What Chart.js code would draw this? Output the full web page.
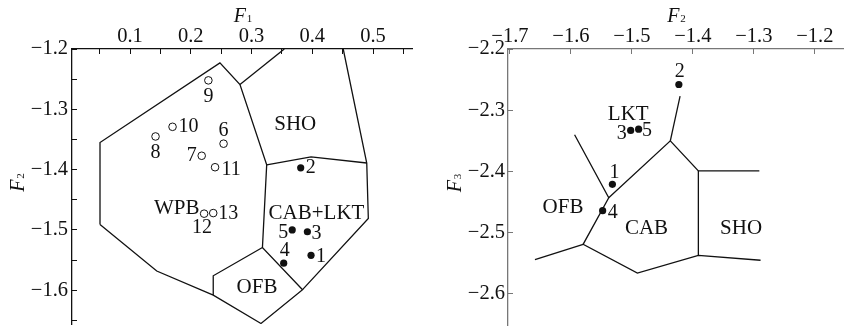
<!DOCTYPE html>
<html>
<head>
<meta charset="utf-8">
<script src="https://cdn.jsdelivr.net/npm/chart.js@4.4.0/dist/chart.umd.min.js"></script>
<style>
  body { margin: 0; background: #fff; }
  #wrap { position: relative; width: 847px; height: 329px; }
  canvas { position: absolute; top: 0; }
</style>
</head>
<body>
<div id="wrap">
  <canvas id="left" width="423" height="329" style="left:0"></canvas>
  <canvas id="right" width="424" height="329" style="left:423px"></canvas>
</div>
<script>
// ---- left diagram: F1 vs F2 ----
const leftFilledNames = ['1', '2', '3', '4', '5'];
const leftFilledF1 = [0.398, 0.381, 0.392, 0.353, 0.367];
const leftFilledF2 = [-1.542, -1.397, -1.503, -1.555, -1.500];

const leftOpenNames = ['6', '7', '8', '9', '10', '11', '12', '13'];
const leftOpenF1 = [0.254, 0.218, 0.142, 0.229, 0.170, 0.240, 0.222, 0.237];
const leftOpenF2 = [-1.357, -1.377, -1.345, -1.252, -1.329, -1.396, -1.473, -1.472];

// field boundaries, [F1, F2]
const leftBoundaries = [
    [[0.0506, -1.491], [0.0506, -1.355], [0.248, -1.223], [0.281, -1.259], [0.325, -1.392], [0.318, -1.529]],
    [[0.281, -1.259], [0.354, -1.200]],
    [[0.325, -1.392], [0.398, -1.379], [0.4897, -1.389]],
    [[0.451, -1.200], [0.4897, -1.389], [0.4923, -1.481], [0.384, -1.599]],
    [[0.0506, -1.491], [0.144, -1.568], [0.237, -1.608], [0.3156, -1.655], [0.384, -1.599], [0.318, -1.529], [0.237, -1.576], [0.237, -1.608]],
];
const leftFields = ['SHO', 'WPB', 'CAB+LKT', 'OFB'];
const leftFieldF1 = [0.372, 0.177, 0.407, 0.309];
const leftFieldF2 = [-1.325, -1.465, -1.473, -1.595];

const leftXTicks = [0.05, 0.1, 0.15, 0.2, 0.25, 0.3, 0.35, 0.4, 0.45, 0.5, 0.55];
const leftYTicks = [-1.65, -1.6, -1.55, -1.5, -1.45, -1.4, -1.35, -1.3, -1.25, -1.2];

// ---- right diagram: F2 vs F3 ----
const rightNames = ['1', '2', '3', '4', '5'];
const rightF2 = [-1.532, -1.423, -1.502, -1.548, -1.489];
const rightF3 = [-2.421, -2.258, -2.333, -2.464, -2.331];

const rightBoundaries = [
    [[-1.594, -2.340], [-1.538, -2.443], [-1.580, -2.519], [-1.491, -2.566], [-1.391, -2.537], [-1.289, -2.545]],
    [[-1.538, -2.443], [-1.437, -2.350], [-1.391, -2.399], [-1.291, -2.399]],
    [[-1.421, -2.277], [-1.437, -2.350]],
    [[-1.391, -2.399], [-1.391, -2.537]],
    [[-1.659, -2.544], [-1.580, -2.519]],
];
const rightFields = ['LKT', 'OFB', 'CAB', 'SHO'];
const rightFieldF2 = [-1.506, -1.613, -1.476, -1.321];
const rightFieldF3 = [-2.307, -2.459, -2.493, -2.493];

const rightXTicks = [-1.7, -1.6, -1.5, -1.4, -1.3, -1.2];
const rightYTicks = [-2.6, -2.5, -2.4, -2.3, -2.2];

// label placement (pixels from the point)
const leftFilledOffsets = [[10, 1], [10, 0], [9, 2], [1, -12], [-9, 3]];
const leftOpenOffsets = [[0, -13], [-10, 0], [0, 16], [0, 16], [16, 0], [16, 3], [-2, 14], [15, 1]];
const rightOffsets = [[2, -12], [1, -13], [-9, 3], [10, 2], [8.5, 2]];

const SERIF = '"Liberation Serif", "Times New Roman", serif';

function fmt(v) {
    const s = Math.abs(v).toFixed(1);
    return v < 0 ? '\u2212' + s : s;
}

function toPoints(xs, ys) {
    return xs.map((x, i) => ({ x: x, y: ys[i] }));
}

function lineSets(paths, color) {
    return paths.map(p => ({
        type: 'line',
        data: p.map(q => ({ x: q[0], y: q[1] })),
        borderColor: color,
        borderWidth: 1.3,
        pointRadius: 0,
        fill: false,
        tension: 0,
    }));
}

function drawTitle(ctx, x, y, main, sub, rotate) {
    ctx.save();
    ctx.translate(x, y);
    if (rotate) ctx.rotate(-Math.PI / 2);
    ctx.font = 'italic 20px ' + SERIF;
    const w1 = ctx.measureText(main).width;
    ctx.font = '11px ' + SERIF;
    const w2 = ctx.measureText(sub).width;
    const start = -(w1 + w2 + 1) / 2;
    ctx.textAlign = 'left';
    ctx.textBaseline = 'alphabetic';
    ctx.font = 'italic 20px ' + SERIF;
    ctx.fillText(main, start, 6);
    ctx.font = '11px ' + SERIF;
    ctx.fillText(sub, start + w1 + 1, 6);
    ctx.restore();
}

const textPlugin = {
    id: 'textPlugin',
    afterDatasetsDraw(chart, args, opts) {
        const ctx = chart.ctx;
        const xs = chart.scales.x, ys = chart.scales.y;
        ctx.save();
        ctx.fillStyle = '#111';
        ctx.textAlign = 'center';
        ctx.textBaseline = 'middle';
        ctx.font = '20px ' + SERIF;
        opts.pointLabels.forEach(set => {
            const meta = chart.getDatasetMeta(set.dataset);
            meta.data.forEach((pt, i) => {
                ctx.fillText(set.names[i], pt.x + set.offsets[i][0], pt.y + set.offsets[i][1]);
            });
        });
        ctx.font = '21px ' + SERIF;
        opts.fields.names.forEach((n, i) => {
            ctx.fillText(n, xs.getPixelForValue(opts.fields.x[i]), ys.getPixelForValue(opts.fields.y[i]));
        });
        const area = chart.chartArea;
        drawTitle(ctx, (area.left + area.right) / 2 + 1, 16, 'F', opts.xTitle, false);
        drawTitle(ctx, opts.yTitleX, (area.top + area.bottom) / 2 - 4, 'F', opts.yTitle, true);
        ctx.restore();
    }
};

function noPad(s) {
    s.paddingTop = 0;
    s.paddingBottom = 0;
    s.paddingLeft = 0;
    s.paddingRight = 0;
}

function axes(cfg) {
    const tickFont = { family: SERIF, size: 20.5 };
    return {
        x: {
            type: 'linear',
            position: 'top',
            min: cfg.xMin,
            max: cfg.xMax,
            afterBuildTicks: s => { s.ticks = cfg.xTicks.map(v => ({ value: v })); },
            afterFit: s => { s.height = 49; noPad(s); },
            ticks: {
                autoSkip: false,
                maxRotation: 0,
                padding: 5,
                color: '#111',
                font: tickFont,
                callback: v => cfg.xLabel(v),
            },
            grid: { drawOnChartArea: false, drawTicks: true, tickLength: -5, color: cfg.axisColor, lineWidth: 1 },
            border: { display: true, color: cfg.axisColor, width: 1.3 },
        },
        y: {
            type: 'linear',
            position: 'left',
            min: cfg.yMin,
            max: cfg.yMax,
            afterBuildTicks: s => { s.ticks = cfg.yTicks.map(v => ({ value: v })); },
            afterFit: s => { s.width = cfg.yWidth; noPad(s); },
            ticks: {
                autoSkip: false,
                padding: cfg.yPad,
                color: '#111',
                font: tickFont,
                callback: v => cfg.yLabel(v),
            },
            grid: { drawOnChartArea: false, drawTicks: true, tickLength: -5, color: cfg.axisColor, lineWidth: 1 },
            border: { display: true, color: cfg.axisColor, width: 1.3 },
        },
    };
}

function isMajor(v) {
    return Math.abs(v * 10 - Math.round(v * 10)) < 1e-6;
}

// left chart
const leftDatasets = lineSets(leftBoundaries, '#111');
leftDatasets.push({
    type: 'scatter',
    data: toPoints(leftFilledF1, leftFilledF2),
    pointRadius: 3.6,
    pointBackgroundColor: '#111',
    pointBorderColor: '#111',
    pointBorderWidth: 0,
});
leftDatasets.push({
    type: 'scatter',
    data: toPoints(leftOpenF1, leftOpenF2),
    pointRadius: 3.8,
    pointBackgroundColor: '#fff',
    pointBorderColor: '#111',
    pointBorderWidth: 1,
});

new Chart(document.getElementById('left'), {
    type: 'scatter',
    data: { datasets: leftDatasets },
    options: {
        responsive: false,
        animation: false,
        events: [],
        layout: { padding: { left: 0, top: 0, right: 11, bottom: 3 } },
        scales: axes({
            xMin: 0.0045, xMax: 0.5642, yMin: -1.6559, yMax: -1.2,
            xTicks: leftXTicks, yTicks: leftYTicks,
            xLabel: v => (isMajor(v) ? fmt(v) : ''),
            yLabel: v => (isMajor(v) ? fmt(v) : ''),
            yWidth: 72, yPad: 9, axisColor: '#111',
        }),
        plugins: {
            legend: { display: false },
            tooltip: { enabled: false },
            textPlugin: {
                pointLabels: [
                    { dataset: leftBoundaries.length, names: leftFilledNames, offsets: leftFilledOffsets },
                    { dataset: leftBoundaries.length + 1, names: leftOpenNames, offsets: leftOpenOffsets },
                ],
                fields: { names: leftFields, x: leftFieldF1, y: leftFieldF2 },
                xTitle: '1', yTitle: '2', yTitleX: 18,
            },
        },
    },
    plugins: [textPlugin],
});

// right chart
const rightDatasets = lineSets(rightBoundaries, '#111');
rightDatasets.push({
    type: 'scatter',
    data: toPoints(rightF2, rightF3),
    pointRadius: 3.6,
    pointBackgroundColor: '#111',
    pointBorderColor: '#111',
    pointBorderWidth: 0,
});

new Chart(document.getElementById('right'), {
    type: 'scatter',
    data: { datasets: rightDatasets },
    options: {
        responsive: false,
        animation: false,
        events: [],
        layout: { padding: { left: 0, top: 0, right: 0, bottom: 3 } },
        scales: axes({
            xMin: -1.7032, xMax: -1.1538, yMin: -2.6507, yMax: -2.2,
            xTicks: rightXTicks, yTicks: rightYTicks,
            xLabel: v => fmt(v),
            yLabel: v => fmt(v),
            yWidth: 85, yPad: 8, axisColor: '#777',
        }),
        plugins: {
            legend: { display: false },
            tooltip: { enabled: false },
            textPlugin: {
                pointLabels: [
                    { dataset: rightBoundaries.length, names: rightNames, offsets: rightOffsets },
                ],
                fields: { names: rightFields, x: rightFieldF2, y: rightFieldF3 },
                xTitle: '2', yTitle: '3', yTitleX: 32,
            },
        },
    },
    plugins: [textPlugin],
});
</script>
</body>
</html>
